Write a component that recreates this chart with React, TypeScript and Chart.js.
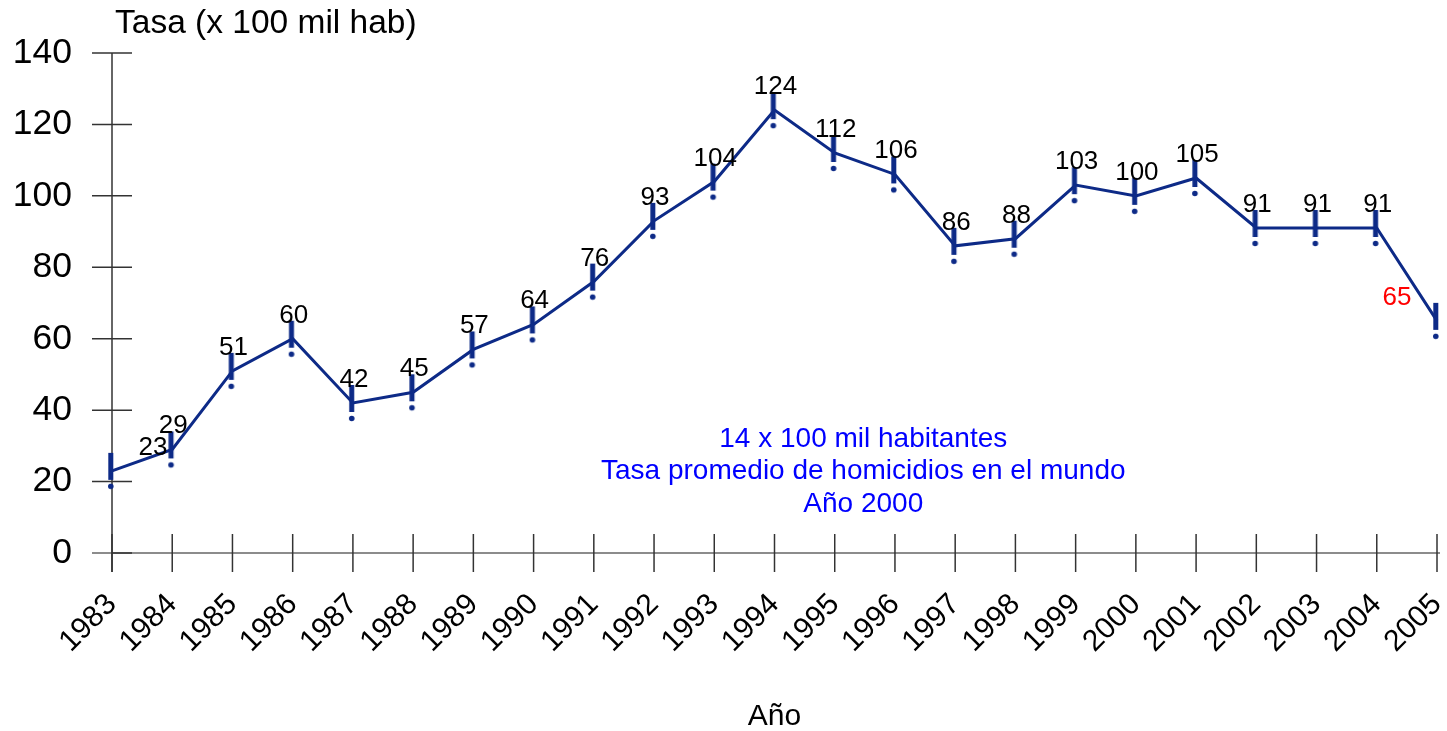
import React, { useEffect, useRef } from 'react';
import { Chart, registerables } from 'chart.js';

Chart.register(...registerables);

const years = ['1983', '1984', '1985', '1986', '1987', '1988', '1989', '1990', '1991', '1992', '1993', '1994', '1995', '1996', '1997', '1998', '1999', '2000', '2001', '2002', '2003', '2004', '2005'];
const rates = [23, 29, 51, 60, 42, 45, 57, 64, 76, 93, 104, 124, 112, 106, 86, 88, 103, 100, 105, 91, 91, 91, 65];
const yMin = 0;
const yMax = 140;
const yStep = 20;
const yAxisTitle = 'Tasa (x 100 mil hab)';
const xAxisTitle = 'Año';
const noteLines = ['14 x 100 mil habitantes', 'Tasa promedio de homicidios en el mundo', 'Año 2000'];

const FONT = "'Liberation Sans', Arial, Helvetica, sans-serif";
const NAVY = '#0d2a87';

function makeMarker(): HTMLCanvasElement {
  const c = document.createElement('canvas');
  c.width = 12;
  c.height = 40;
  const g = c.getContext('2d') as CanvasRenderingContext2D;
  g.fillStyle = NAVY;
  g.fillRect(2.3, 2, 5, 27);
  g.beginPath();
  g.arc(4.8, 35.5, 2.8, 0, Math.PI * 2);
  g.fill();
  return c;
}

const axesPlugin = {
  id: 'axesDecor',
  beforeDatasetsDraw(chart: any) {
    const { ctx, chartArea: a, scales } = chart;
    const x = scales.x;
    const y = scales.y;
    const y0 = y.getPixelForValue(yMin);
    ctx.save();
    ctx.lineWidth = 1.5;
    ctx.strokeStyle = '#666';
    ctx.beginPath();
    ctx.moveTo(a.left - 20, y0);
    ctx.lineTo(a.right + 3, y0);
    ctx.stroke();
    ctx.strokeStyle = '#333';
    ctx.beginPath();
    ctx.moveTo(a.left, y.getPixelForValue(yMax));
    ctx.lineTo(a.left, y0 + 19);
    ctx.stroke();
    y.ticks.forEach((_t: any, i: number) => {
      const py = y.getPixelForTick(i);
      ctx.beginPath();
      ctx.moveTo(i === 0 ? a.left : a.left - 20, py);
      ctx.lineTo(a.left + 20, py);
      ctx.stroke();
    });
    x.ticks.forEach((_t: any, i: number) => {
      const px = x.getPixelForTick(i);
      ctx.beginPath();
      ctx.moveTo(px, y0 - 19);
      ctx.lineTo(px, y0 + 19);
      ctx.stroke();
    });
    ctx.restore();
  },
};

const textPlugin = {
  id: 'texts',
  afterDatasetsDraw(chart: any) {
    const { ctx, chartArea: a } = chart;
    const meta = chart.getDatasetMeta(0);
    const last = meta.data.length - 1;
    ctx.save();
    // value labels
    ctx.font = `26px ${FONT}`;
    ctx.textAlign = 'center';
    ctx.textBaseline = 'alphabetic';
    meta.data.forEach((pt: any, i: number) => {
      let dx = 1;
      let color = '#000';
      if (i === 0) dx = 41;
      if (i === last) {
        dx = -40;
        color = '#ff0000';
      }
      ctx.fillStyle = color;
      ctx.fillText(String(rates[i]), pt.x + dx, pt.y - 16);
    });
    // axis title on top
    ctx.font = `33.5px ${FONT}`;
    ctx.textAlign = 'left';
    ctx.fillStyle = '#000';
    ctx.fillText(yAxisTitle, a.left + 3, 33);
    // note
    ctx.font = `28px ${FONT}`;
    ctx.textAlign = 'center';
    ctx.textBaseline = 'middle';
    ctx.fillStyle = '#0000ff';
    const cx = a.left + (a.right - a.left) * 0.567;
    const cy = a.top + (a.bottom - a.top) * 0.772;
    noteLines.forEach((line, i) => {
      ctx.fillText(line, cx, cy + i * 32.5);
    });
    ctx.restore();
  },
};

export default function App() {
  const ref = useRef<HTMLCanvasElement | null>(null);
  useEffect(() => {
    if (!ref.current) return;
    const marker = makeMarker();
    const chart = new Chart(ref.current, {
      type: 'line',
      data: {
        labels: years,
        datasets: [
          {
            data: rates,
            borderColor: NAVY,
            borderWidth: 3,
            tension: 0,
            fill: false,
            pointStyle: marker as any,
            pointRadius: 4,
            pointHoverRadius: 4,
          },
        ],
      },
      options: {
        animation: false,
        responsive: true,
        maintainAspectRatio: false,
        layout: { padding: { top: 53, right: 10, left: 0, bottom: 0 } },
        plugins: {
          legend: { display: false },
          tooltip: { enabled: false },
          title: { display: false },
        },
        scales: {
          x: {
            type: 'category',
            offset: false,
            grid: { display: false, drawTicks: false },
            border: { display: false },
            ticks: {
              autoSkip: false,
              minRotation: 45,
              maxRotation: 45,
              padding: 34,
              color: '#000',
              font: { family: FONT, size: 30 },
            },
            title: {
              display: true,
              text: xAxisTitle,
              color: '#000',
              font: { family: FONT, size: 30, lineHeight: 0.93 },
              padding: 0,
            },
            afterFit: (s: any) => {
              s.height = 178;
              s.paddingLeft = 0;
              s.paddingRight = 0;
            },
          },
          y: {
            min: yMin,
            max: yMax,
            grid: { display: false, drawTicks: false },
            border: { display: false },
            ticks: {
              stepSize: yStep,
              padding: 40,
              color: '#000',
              font: { family: FONT, size: 35.5 },
            },
            afterFit: (s: any) => {
              s.width = 112;
              s.paddingTop = 0;
              s.paddingBottom = 0;
            },
          },
        },
      },
      plugins: [axesPlugin, textPlugin],
    });
    return () => chart.destroy();
  }, []);
  return (
    <div style={{ position: 'fixed', left: 0, top: 0, width: 1447, height: 731, background: '#fff' }}>
      <canvas ref={ref} />
    </div>
  );
}
